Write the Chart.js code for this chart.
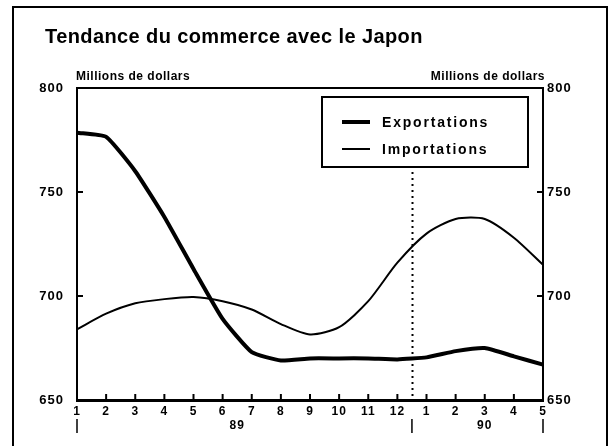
<!DOCTYPE html>
<html>
<head>
<meta charset="utf-8">
<script src="https://cdn.jsdelivr.net/npm/chart.js@4/dist/chart.umd.min.js"></script>
<style>
  html, body { margin: 0; padding: 0; background: #fff; }
  #wrap { width: 615px; height: 446px; position: relative; }
</style>
</head>
<body>
<div id="wrap"><canvas id="tradeChart" width="615" height="446"></canvas></div>
<script>
// months along the axis (1989-01 .. 1990-05)
const months = ["1", "2", "3", "4", "5", "6", "7", "8", "9", "10", "11", "12", "1", "2", "3", "4", "5"];
const yearLabels = ["89", "90"];
const yearCenters = [5.5, 14];          // middle of each year's months
const yearBreaks = [0, 11.5, 16];       // little separators under the axis
const dividerAt = 11.5;                 // dotted line between Dec and Jan

const exportations = [778.5, 776.5, 760, 738, 713, 689, 673, 669, 670, 670, 670, 669.5, 670.5, 673.5, 675, 671, 667];
const importations = [684, 691.5, 696.5, 698.5, 699.5, 697.5, 693.5, 686.5, 681.5, 685, 697.5, 716, 730, 737, 737, 728, 715];

const yTicks = [650, 700, 750, 800];
const titleText = "Tendance du commerce avec le Japon";
const unitText = "Millions de dollars";

const FONT = "'Liberation Sans', Arial, sans-serif";
const INK = "#000";

const el = (id) => document.getElementById(id);

const decor = {
  id: "decor",
  beforeDraw(chart) {
    const { ctx, width, height } = chart;
    ctx.save();
    ctx.fillStyle = "#fff";
    ctx.fillRect(0, 0, width, height);
    ctx.restore();
    // wider letter spacing for the axis labels, like the original typeface
    ctx.letterSpacing = "1px";
  },
  beforeDatasetsDraw(chart) {
    const { ctx, chartArea, scales } = chart;
    const x = Math.round(scales.x.getPixelForValue(dividerAt)) + 0.5;
    ctx.save();
    ctx.fillStyle = INK;
    for (let y = 172; y < chartArea.bottom - 4; y += 6) {
      ctx.fillRect(x - 1, y, 2, 2);
    }
    ctx.restore();
  },
  afterDatasetsDraw(chart) {
    // legend box
    const { ctx } = chart;
    const box = { x: 322, y: 97, w: 206, h: 70 };
    ctx.save();
    ctx.fillStyle = "#fff";
    ctx.fillRect(box.x, box.y, box.w, box.h);
    ctx.strokeStyle = INK;
    ctx.lineWidth = 2;
    ctx.strokeRect(box.x, box.y, box.w, box.h);
    ctx.font = `bold 14px ${FONT}`;
    ctx.letterSpacing = "1.8px";
    ctx.textBaseline = "middle";
    ctx.fillStyle = INK;
    chart.data.datasets.forEach((ds, i) => {
      const y = box.y + 25 + i * 27;
      ctx.lineWidth = ds.borderWidth;
      ctx.beginPath();
      ctx.moveTo(box.x + 20, y);
      ctx.lineTo(box.x + 48, y);
      ctx.stroke();
      ctx.fillText(ds.label, box.x + 60, y + 1);
    });
    ctx.restore();
  },
  afterDraw(chart) {
    const { ctx, chartArea, scales } = chart;
    const { left, right, top, bottom } = chartArea;
    ctx.save();
    ctx.strokeStyle = INK;
    ctx.fillStyle = INK;

    // outer frame (bottom edge runs off the picture)
    ctx.lineWidth = 2;
    ctx.beginPath();
    ctx.moveTo(13, 460);
    ctx.lineTo(13, 7);
    ctx.lineTo(607, 7);
    ctx.lineTo(607, 460);
    ctx.stroke();

    // top edge of plot box
    ctx.beginPath();
    ctx.moveTo(left, top);
    ctx.lineTo(right, top);
    ctx.stroke();

    // title
    ctx.font = `bold 20px ${FONT}`;
    ctx.letterSpacing = "0.4px";
    ctx.textBaseline = "alphabetic";
    ctx.textAlign = "left";
    ctx.fillText(titleText, 45, 43);

    // unit labels over both axes
    ctx.font = `bold 12px ${FONT}`;
    ctx.letterSpacing = "0.5px";
    ctx.fillText(unitText, left - 1, top - 8);
    ctx.textAlign = "right";
    ctx.fillText(unitText, right + 2, top - 8);

    // inward tick marks
    ctx.lineWidth = 2;
    for (let i = 1; i < months.length - 1; i++) {
      const x = scales.x.getPixelForValue(i);
      ctx.beginPath();
      ctx.moveTo(x, bottom);
      ctx.lineTo(x, bottom - 6);
      ctx.stroke();
    }
    for (const v of yTicks.slice(1, -1)) {
      const y = scales.y.getPixelForValue(v);
      ctx.beginPath();
      ctx.moveTo(left, y);
      ctx.lineTo(left + 6, y);
      ctx.moveTo(right, y);
      ctx.lineTo(right - 6, y);
      ctx.stroke();
    }

    // year labels and separators
    ctx.font = `bold 12px ${FONT}`;
    ctx.letterSpacing = "1px";
    ctx.textAlign = "center";
    ctx.textBaseline = "middle";
    yearLabels.forEach((lab, i) => {
      ctx.fillText(lab, scales.x.getPixelForValue(yearCenters[i]), bottom + 26);
    });
    ctx.lineWidth = 1.5;
    for (const b of yearBreaks) {
      const x = scales.x.getPixelForValue(b);
      ctx.beginPath();
      ctx.moveTo(x, bottom + 19);
      ctx.lineTo(x, bottom + 33);
      ctx.stroke();
    }
    ctx.restore();
  },
};

const xFont = { family: FONT, size: 12, weight: "bold" };
const yFont = { family: FONT, size: 13, weight: "bold" };

new Chart(el("tradeChart"), {
  type: "line",
  data: {
    labels: months,
    datasets: [
      {
        label: "Exportations",
        data: exportations,
        borderColor: INK,
        borderWidth: 4,
        pointRadius: 0,
        tension: 0.15,
        yAxisID: "y",
      },
      {
        label: "Importations",
        data: importations,
        borderColor: INK,
        borderWidth: 2,
        pointRadius: 0,
        tension: 0.25,
        yAxisID: "y",
      },
    ],
  },
  options: {
    responsive: false,
    animation: false,
    events: [],
    layout: { padding: { top: 88, left: 0, right: 0, bottom: 0 } },
    plugins: { legend: { display: false }, title: { display: false }, tooltip: { enabled: false } },
    scales: {
      x: {
        grid: { display: false, drawTicks: false },
        border: { display: true, color: INK, width: 3 },
        ticks: { color: INK, font: xFont, padding: 4, maxRotation: 0, autoSkip: false },
        afterFit: (s) => { s.height = 46; },
      },
      y: {
        position: "left",
        min: 650,
        max: 800,
        afterBuildTicks: (s) => { s.ticks = yTicks.map((v) => ({ value: v })); },
        grid: { display: false, drawTicks: false },
        border: { display: true, color: INK, width: 2 },
        ticks: { color: INK, font: yFont, padding: 13 },
        afterFit: (s) => { s.width = 77; },
      },
      y2: {
        position: "right",
        min: 650,
        max: 800,
        afterBuildTicks: (s) => { s.ticks = yTicks.map((v) => ({ value: v })); },
        grid: { display: false, drawTicks: false },
        border: { display: true, color: INK, width: 2 },
        ticks: { color: INK, font: yFont, padding: 4 },
        afterFit: (s) => { s.width = 72; },
      },
    },
  },
  plugins: [decor],
});
</script>
</body>
</html>
